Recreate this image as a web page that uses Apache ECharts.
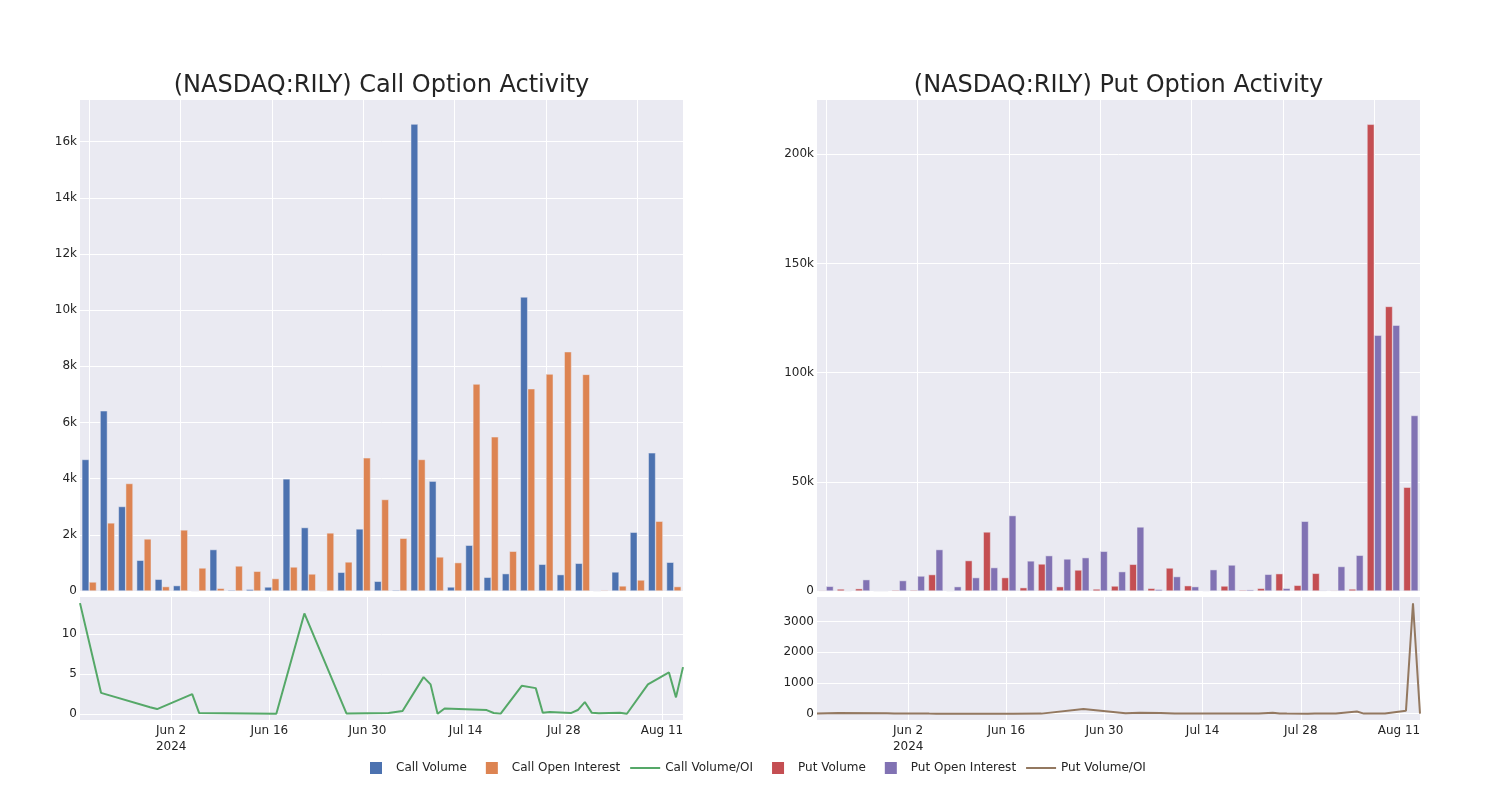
<!DOCTYPE html>
<html>
<head>
<meta charset="utf-8">
<script src="https://cdn.jsdelivr.net/npm/echarts@6/dist/echarts.min.js"></script>
<style>
html,body{margin:0;padding:0;background:#fff;}
#chart{width:1500px;height:800px;}
</style>
</head>
<body>
<div id="chart"></div>
<script>
const dates = ['2024-05-20','2024-05-23','2024-05-30','2024-05-31','2024-06-05','2024-06-06','2024-06-17','2024-06-21','2024-06-27','2024-07-03','2024-07-05','2024-07-08','2024-07-09','2024-07-10','2024-07-11','2024-07-17','2024-07-18','2024-07-19','2024-07-22','2024-07-24','2024-07-25','2024-07-26','2024-07-29','2024-07-30','2024-07-31','2024-08-01','2024-08-02','2024-08-05','2024-08-06','2024-08-09','2024-08-12','2024-08-13','2024-08-14'];
const callVolume = [4683, 6415, 3008, 1094, 417, 192, 0, 1475, 36, 60, 143, 3992, 2259, 10, 666, 2210, 346, 36, 16622, 3910, 143, 1629, 488, 618, 10468, 951, 583, 986, 0, 678, 2092, 4918, 1023];
const callOpenInterest = [321, 2424, 3827, 1853, 157, 2174, 820, 96, 891, 702, 442, 855, 606, 2067, 1034, 4740, 3257, 1878, 4683, 1212, 1010, 7367, 5489, 1415, 7200, 7723, 8519, 7712, 30, 180, 392, 2484, 157];
const callVolumeOI = [13.89, 2.63, 0.82, 0.59, 2.47, 0.09, 0, 12.6, 0.05, 0.09, 0.34, 4.6, 3.69, 0, 0.66, 0.46, 0.1, 0.02, 3.51, 3.22, 0.14, 0.22, 0.09, 0.47, 1.47, 0.12, 0.07, 0.13, 0, 3.69, 5.19, 2.06, 5.86];
const putVolume = [300, 920, 1070, 0, 450, 450, 7520, 0, 13930, 27040, 6140, 1530, 12380, 2000, 9620, 920, 2290, 12230, 1220, 10540, 2440, 150, 2290, 460, 1220, 7940, 2600, 8090, 300, 920, 213750, 130340, 47530];
const putOpenInterest = [2140, 100, 5200, 0, 4770, 6870, 18970, 2000, 6140, 10720, 34540, 13780, 16200, 14670, 15280, 18190, 8870, 29330, 760, 6600, 2000, 9780, 11910, 610, 7640, 1220, 31940, 300, 11210, 16350, 117190, 121770, 80380];
const putVolumeOI = [5, 20, 12, 10, 3, 2, 2, 3, 150, 15, 30, 20, 12, 3, 5, 3, 5, 5, 10, 30, 5, 3, 2, 3, 3, 3, 5, 70, 3, 5, 100, 3600, 2];
const dateTicks = ['2024-06-02','2024-06-16','2024-06-30','2024-07-14','2024-07-28','2024-08-11'];
const callTicks = [0, 2000, 4000, 6000, 8000, 10000, 12000, 14000, 16000];
const putTicks = [0, 50000, 100000, 150000, 200000];
const callRatioTicks = [0, 5, 10];
const putRatioTicks = [0, 1000, 2000, 3000];
const titles = ['(NASDAQ:RILY) Call Option Activity', '(NASDAQ:RILY) Put Option Activity'];

const MONTHS = ['Jan','Feb','Mar','Apr','May','Jun','Jul','Aug','Sep','Oct','Nov','Dec'];
const P = s => { const [y,m,d] = s.split('-').map(Number); return Date.UTC(y, m-1, d); };
const tickTs = dateTicks.map(P);
const txt = '#242424';
const font = 'DejaVu Sans';
const bgc = '#eaeaf2';
// 30x12 bounding box, centred 12x12 square
const sqIcon = 'path://M0,0L0.01,0L0,0.01Z M30,12L29.99,12L30,11.99Z M9,0L21,0L21,12L9,12Z';
// 30x12 bounding box, 2px horizontal line in the middle
const lnIcon = 'path://M0,0L0.01,0L0,0.01Z M30,12L29.99,12L30,11.99Z M0,5L30,5L30,7L0,7Z';

function dateFmt(v){
  const d = new Date(v);
  let s = MONTHS[d.getUTCMonth()] + ' ' + d.getUTCDate();
  if (Math.abs(v - tickTs[0]) < 3600e3) s += '\n' + d.getUTCFullYear();
  return s;
}
function kFmt(v){ return v === 0 ? '0' : (v/1000) + 'k'; }
function plainFmt(v){ return String(v); }

const grids = [
  {left:80, top:100, width:603, height:491},
  {left:80, top:597, width:603, height:123},
  {left:817, top:100, width:603, height:491},
  {left:817, top:597, width:603, height:123}
].map(g => Object.assign({show:true, backgroundColor:bgc, borderWidth:0}, g));

function catAxis(gi){
  return {type:'category', gridIndex:gi, data:dates, boundaryGap:true,
    axisLine:{show:false}, axisTick:{show:false, alignWithLabel:true, interval:4},
    axisLabel:{show:false},
    splitLine:{show:true, interval:4, alignWithLabel:true, lineStyle:{color:'#fff', width:1}}};
}
function dateAxis(gi){
  return {type:'value', gridIndex:gi, min:P(dates[0]), max:P(dates[dates.length-1]),
    axisLine:{show:false}, axisTick:{show:false, customValues:tickTs},
    axisLabel:{customValues:tickTs, formatter:dateFmt, color:txt, fontSize:12, fontFamily:font, margin:3, lineHeight:16},
    splitLine:{show:true, lineStyle:{color:'#fff', width:1}}};
}
function valAxis(gi, min, max, ticks, fmt){
  return {type:'value', gridIndex:gi, min:min, max:max,
    axisLine:{show:false}, axisTick:{show:false, customValues:ticks},
    axisLabel:{color:txt, fontSize:12, fontFamily:font, margin:3, customValues:ticks, formatter:fmt},
    splitLine:{show:true, lineStyle:{color:'#fff', width:1}}};
}

const barStyle = c => ({color:c, borderColor:'#eaeaf2', borderWidth:0.5});

const option = {
  animation:false,
  textStyle:{fontFamily:font},
  title: titles.map((t,i) => ({text:t, left: i===0 ? 381.5 : 1118.5, top:74, textAlign:'center', padding:0,
    textStyle:{fontSize:24, fontWeight:'normal', color:txt, fontFamily:font}})),
  legend:{
    left:361, top:762, padding:0, itemWidth:30, itemHeight:12, itemGap:10,
    itemStyle:{borderWidth:0},
    textStyle:{fontSize:12, color:txt, fontFamily:font},
    data:[
      {name:'Call Volume', icon:sqIcon},
      {name:'Call Open Interest', icon:sqIcon},
      {name:'Call Volume/OI', icon:lnIcon},
      {name:'Put Volume', icon:sqIcon},
      {name:'Put Open Interest', icon:sqIcon},
      {name:'Put Volume/OI', icon:lnIcon}
    ]
  },
  grid: grids,
  xAxis:[catAxis(0), dateAxis(1), catAxis(2), dateAxis(3)],
  yAxis:[
    valAxis(0, 0, 17480, callTicks, kFmt),
    valAxis(1, -0.78, 14.66, callRatioTicks, plainFmt),
    valAxis(2, 0, 224900, putTicks, kFmt),
    valAxis(3, -205, 3805, putRatioTicks, plainFmt)
  ],
  series:[
    {name:'Call Volume', type:'bar', xAxisIndex:0, yAxisIndex:0, data:callVolume, itemStyle:barStyle('#4c72b0'), barGap:'0%', barCategoryGap:'20%'},
    {name:'Call Open Interest', type:'bar', xAxisIndex:0, yAxisIndex:0, data:callOpenInterest, itemStyle:barStyle('#dd8452'), barGap:'0%', barCategoryGap:'20%'},
    {name:'Call Volume/OI', type:'line', xAxisIndex:1, yAxisIndex:1, data:dates.map((d,i)=>[P(d), callVolumeOI[i]]), symbol:'none', lineStyle:{width:2, color:'#55a868'}, itemStyle:{color:'#55a868'}},
    {name:'Put Volume', type:'bar', xAxisIndex:2, yAxisIndex:2, data:putVolume, itemStyle:barStyle('#c44e52'), barGap:'0%', barCategoryGap:'20%'},
    {name:'Put Open Interest', type:'bar', xAxisIndex:2, yAxisIndex:2, data:putOpenInterest, itemStyle:barStyle('#8172b3'), barGap:'0%', barCategoryGap:'20%'},
    {name:'Put Volume/OI', type:'line', xAxisIndex:3, yAxisIndex:3, data:dates.map((d,i)=>[P(d), putVolumeOI[i]]), symbol:'none', lineStyle:{width:2, color:'#937860'}, itemStyle:{color:'#937860'}}
  ]
};
const chart = echarts.init(document.getElementById('chart'), null, {renderer:'canvas'});
chart.setOption(option);
</script>
</body>
</html>
